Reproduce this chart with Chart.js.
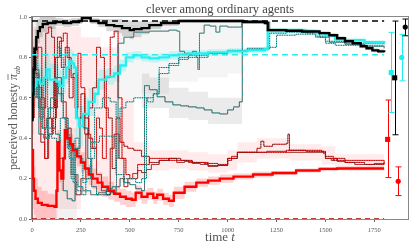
<!DOCTYPE html>
<html>
<head>
<meta charset="utf-8">
<script src="https://cdn.jsdelivr.net/npm/chart.js@4"></script>
<style>
  html, body { margin: 0; padding: 0; background: #fff; }
</style>
</head>
<body>
<canvas id="chart" width="415" height="249"></canvas>
<script>
// Mean perceived honesty (thick lines).
const blackT = [0, 3, 8, 14, 22, 30, 40, 55, 80, 120, 160, 200, 240, 255, 300, 340, 380, 420, 460, 500, 520, 560, 600, 660, 750, 900, 1070, 1080, 1190, 1205, 1300, 1380, 1470, 1520, 1560, 1600, 1640, 1680, 1710, 1740, 1770, 1800];
const blackV = [0.49, 0.62, 0.74, 0.84, 0.90, 0.93, 0.95, 0.965, 0.97, 0.975, 0.97, 0.975, 0.98, 0.995, 0.98, 0.97, 0.96, 0.955, 0.945, 0.935, 0.94, 0.945, 0.96, 0.97, 0.98, 0.98, 0.98, 0.975, 0.97, 0.935, 0.932, 0.928, 0.92, 0.91, 0.895, 0.88, 0.87, 0.855, 0.845, 0.835, 0.83, 0.825];
const blackSpread = [0.2, 0.2, 0.15, 0.1, 0.08, 0.06, 0.05, 0.04, 0.03, 0.02, 0.02, 0.02, 0.015, 0.01, 0.015, 0.02, 0.03, 0.035, 0.04, 0.045, 0.04, 0.03, 0.02, 0.015, 0.01, 0.01, 0.01, 0.01, 0.01, 0.01, 0.01, 0.01, 0.01, 0.01, 0.01, 0.01, 0.01, 0.01, 0.01, 0.01, 0.01, 0.01];

const cyanT = [0, 10, 22, 40, 60, 75, 90, 125, 140, 160, 175, 190, 205, 215, 225, 240, 260, 290, 320, 340, 380, 420, 450, 480, 520, 560, 600, 650, 700, 750, 800, 900, 1000, 1100, 1190, 1205, 1300, 1400, 1450, 1500, 1550, 1600, 1700, 1800];
const cyanV = [0.62, 0.66, 0.69, 0.67, 0.70, 0.74, 0.69, 0.68, 0.66, 0.70, 0.75, 0.78, 0.77, 0.75, 0.50, 0.46, 0.52, 0.58, 0.62, 0.69, 0.705, 0.72, 0.76, 0.80, 0.81, 0.80, 0.795, 0.80, 0.81, 0.815, 0.82, 0.825, 0.83, 0.835, 0.84, 0.93, 0.935, 0.93, 0.92, 0.91, 0.89, 0.885, 0.875, 0.87];
const cyanSpread = [0.1, 0.1, 0.08, 0.08, 0.08, 0.08, 0.08, 0.08, 0.08, 0.08, 0.08, 0.06, 0.06, 0.06, 0.1, 0.1, 0.08, 0.07, 0.06, 0.05, 0.04, 0.04, 0.03, 0.025, 0.02, 0.02, 0.02, 0.02, 0.02, 0.02, 0.015, 0.015, 0.015, 0.015, 0.015, 0.015, 0.01, 0.01, 0.01, 0.01, 0.01, 0.01, 0.01, 0.01];

const redT = [0, 5, 10, 18, 30, 50, 80, 115, 125, 130, 140, 150, 160, 168, 180, 195, 210, 230, 250, 270, 290, 310, 335, 360, 390, 420, 450, 480, 510, 530, 560, 590, 620, 640, 670, 700, 725, 780, 840, 900, 960, 1030, 1130, 1230, 1350, 1470, 1560, 1800];
const redV = [0.34, 0.2, 0.14, 0.1, 0.08, 0.07, 0.065, 0.06, 0.14, 0.38, 0.24, 0.2, 0.3, 0.44, 0.4, 0.37, 0.34, 0.31, 0.28, 0.25, 0.22, 0.2, 0.18, 0.16, 0.14, 0.125, 0.11, 0.1, 0.095, 0.13, 0.11, 0.125, 0.105, 0.12, 0.1, 0.09, 0.13, 0.16, 0.18, 0.19, 0.2, 0.21, 0.22, 0.228, 0.24, 0.248, 0.25, 0.25];
const redSpread = [0.15, 0.15, 0.12, 0.1, 0.08, 0.07, 0.06, 0.06, 0.08, 0.06, 0.06, 0.06, 0.06, 0.06, 0.05, 0.05, 0.05, 0.05, 0.05, 0.05, 0.05, 0.05, 0.05, 0.05, 0.045, 0.04, 0.04, 0.04, 0.035, 0.035, 0.035, 0.03, 0.03, 0.03, 0.03, 0.03, 0.03, 0.025, 0.02, 0.02, 0.02, 0.015, 0.015, 0.01, 0.01, 0.01, 0.01, 0.01];

// Single runs (thin lines).
const aT = [0, 8, 20, 35, 55, 75, 95, 120, 140, 160, 180, 205, 220, 245, 265, 285, 305, 330, 360, 400, 430, 450, 470, 500, 530, 560, 575, 600, 640, 680, 720, 760, 800, 840, 880, 920, 960, 1000, 1030, 1060, 1075, 1200, 1215, 1400, 1470, 1520, 1600, 1700, 1800];
const aV = [0.6, 0.8, 0.74, 0.55, 0.45, 0.5, 0.6, 0.42, 0.3, 0.14, 0.1, 0.09, 0.35, 0.5, 0.45, 0.3, 0.16, 0.12, 0.12, 0.13, 0.16, 0.2, 0.18, 0.17, 0.15, 0.14, 0.66, 0.64, 0.605, 0.58, 0.565, 0.56, 0.555, 0.55, 0.54, 0.525, 0.52, 0.54, 0.555, 0.58, 0.98, 0.975, 0.93, 0.925, 0.9, 0.875, 0.865, 0.855, 0.845];

const bT = [0, 15, 35, 60, 85, 110, 135, 160, 185, 210, 235, 260, 300, 340, 380, 410, 432, 440, 470, 520, 600, 700, 740, 755, 780, 800, 820, 840, 848, 856, 880, 910, 940, 960, 1000, 1060, 1072];
const bV = [0.8, 0.7, 0.42, 0.4, 0.55, 0.68, 0.62, 0.5, 0.36, 0.22, 0.16, 0.14, 0.12, 0.13, 0.15, 0.16, 0.3, 0.87, 0.9, 0.925, 0.93, 0.935, 0.93, 0.83, 0.82, 0.815, 0.83, 0.8, 0.74, 0.92, 0.96, 0.955, 0.925, 0.955, 0.95, 0.95, 0.98];

const cT = [0, 15, 30, 50, 70, 90, 110, 130, 145, 160, 180, 200, 220, 240, 260, 280, 300, 320, 360, 400, 430, 450, 480, 520, 560, 590, 620, 650, 700, 750, 800, 900, 1000, 1100, 1200, 1215, 1300, 1400, 1450, 1500, 1550, 1800];
const cV = [0.7, 0.8, 0.6, 0.45, 0.4, 0.42, 0.6, 0.85, 0.8, 0.5, 0.35, 0.2, 0.4, 0.3, 0.18, 0.2, 0.3, 0.55, 0.6, 0.58, 0.5, 0.55, 0.58, 0.6, 0.6, 0.58, 0.62, 0.75, 0.77, 0.79, 0.8, 0.82, 0.83, 0.84, 0.84, 0.92, 0.925, 0.92, 0.9, 0.87, 0.86, 0.86];

const dT = [0, 20, 40, 60, 80, 100, 125, 145, 170, 190, 210, 230, 255, 275, 300, 345, 430, 470, 500, 530, 560, 585, 620, 650, 700, 750, 800, 900, 1000, 1100, 1210, 1250, 1350, 1450, 1500, 1600, 1800];
const dV = [0.6, 0.65, 0.5, 0.7, 0.45, 0.4, 0.38, 0.5, 0.42, 0.3, 0.18, 0.14, 0.12, 0.2, 0.38, 0.41, 0.22, 0.2, 0.2, 0.18, 0.2, 0.6, 0.62, 0.72, 0.76, 0.8, 0.81, 0.82, 0.835, 0.845, 0.85, 0.91, 0.915, 0.905, 0.88, 0.87, 0.865];

const l1T = [0, 10, 25, 45, 65, 85, 105, 125, 150, 175, 200, 225, 250, 275, 300, 330, 355, 380, 400, 420, 445, 470, 490, 515, 540, 560, 585, 610, 650, 700, 740, 780, 820, 860, 900, 950, 1000, 1020, 1050, 1100, 1200, 1300, 1400, 1490, 1500, 1530, 1545, 1560, 1600, 1650, 1700, 1750, 1800];
const l1V = [0.5, 0.72, 0.6, 0.38, 0.3, 0.42, 0.5, 0.7, 0.58, 0.45, 0.22, 0.12, 0.2, 0.42, 0.35, 0.22, 0.14, 0.12, 0.35, 0.42, 0.3, 0.16, 0.2, 0.225, 0.24, 0.23, 0.245, 0.27, 0.29, 0.3, 0.28, 0.285, 0.275, 0.27, 0.26, 0.265, 0.29, 0.31, 0.33, 0.33, 0.335, 0.33, 0.33, 0.325, 0.3, 0.29, 0.3, 0.285, 0.28, 0.27, 0.27, 0.275, 0.28];

const l2T = [0, 8, 20, 35, 50, 70, 85, 100, 115, 130, 150, 170, 190, 210, 230, 250, 270, 290, 310, 330, 350, 370, 390, 410, 430, 450, 470, 490, 520, 560, 600, 650, 700, 760, 820, 880, 950, 1000, 1050, 1150, 1170, 1185, 1230, 1300, 1308, 1316, 1400, 1490, 1500, 1540, 1560, 1600, 1700, 1800];
const l2V = [0.75, 0.85, 0.72, 0.65, 0.55, 0.92, 0.95, 0.9, 0.55, 0.9, 0.75, 0.85, 0.6, 0.72, 0.5, 0.62, 0.42, 0.55, 0.65, 0.85, 0.8, 0.55, 0.5, 0.25, 0.5, 0.38, 0.36, 0.35, 0.34, 0.31, 0.28, 0.29, 0.3, 0.29, 0.28, 0.275, 0.27, 0.3, 0.33, 0.35, 0.385, 0.36, 0.37, 0.375, 0.42, 0.34, 0.335, 0.33, 0.31, 0.29, 0.3, 0.28, 0.27, 0.275];

const r3T = [0, 10, 30, 50, 65, 80, 100, 120, 140, 160, 180, 200, 220, 235, 250, 270, 290, 310, 330, 345, 360, 380, 400, 420, 440, 460, 480, 500, 540, 600, 700, 800, 900, 1000, 1050, 1300, 1480, 1500, 1560, 1800];
const r3V = [0.5, 0.8, 0.85, 0.6, 0.3, 0.5, 0.45, 0.8, 0.88, 0.92, 0.8, 0.7, 0.55, 0.82, 0.65, 0.5, 0.4, 0.35, 0.5, 0.45, 0.3, 0.7, 0.9, 0.93, 0.6, 0.3, 0.22, 0.2, 0.27, 0.3, 0.29, 0.28, 0.265, 0.3, 0.33, 0.34, 0.335, 0.3, 0.29, 0.275];

// Spread of the single runs (light shading).
const pinkT = [0, 130, 250, 350, 450, 520, 600, 700, 800, 900, 1000, 1050, 1150, 1320, 1480, 1550, 1800];
const pinkLo = [0.0, 0.05, 0.12, 0.15, 0.18, 0.2, 0.24, 0.25, 0.24, 0.23, 0.24, 0.28, 0.3, 0.29, 0.27, 0.25, 0.25];
const pinkHi = [0.95, 0.95, 0.9, 0.85, 0.6, 0.38, 0.34, 0.34, 0.33, 0.32, 0.34, 0.38, 0.4, 0.37, 0.36, 0.32, 0.31];

const greyT = [560, 600, 700, 800, 900, 1000, 1075];
const greyLo = [0.55, 0.55, 0.5, 0.49, 0.47, 0.47, 0.5];
const greyHi = [0.72, 0.7, 0.65, 0.63, 0.6, 0.6, 0.65];

const grey2T = [440, 560, 700, 850, 1000, 1075];
const grey2Lo = [0.6, 0.62, 0.68, 0.7, 0.72, 0.75];
const grey2Hi = [0.96, 0.97, 0.97, 0.98, 0.98, 0.98];

const grey3T = [0, 60, 125, 160, 230];
const grey3Lo = [0.55, 0.7, 0.0, 0.0, 0.0];
const grey3Hi = [1.0, 1.0, 0.4, 0.45, 0.45];

// Reference levels (dashed).
const levelT = [0, 1800];
const blackLevel = 0.98;
const cyanLevel = 0.813;
const redLevel = 0.0;

// Final values with error bars at the right.
const errX = [1818, 1836, 1854, 1872, 1890, 1908];
const errY = [0.394, 0.725, 0.699, 0.187, 0.80, 0.95];
const errLo = [0.205, 0.527, 0.417, 0.116, 0.684, 0.907];
const errHi = [0.589, 0.924, 0.98, 0.258, 0.914, 0.99];
const errColors = ['#ff0000', '#22eeee', '#000000', '#ff0000', '#22eeee', '#000000'];
const errShapes = ['rect', 'rect', 'rect', 'circle', 'circle', 'circle'];

const xTickStep = 250;
const yTickStep = 0.2;

const SERIF = '"Liberation Serif", "DejaVu Serif", serif';

function pts( t, v ) {
  return t.map( ( x, i ) => ( { x: x, y: v[ i ] } ) );
}

function offset( t, v, s, sign ) {
  return t.map( ( x, i ) => ( { x: x, y: v[ i ] + sign * s[ i ] } ) );
}

const sets = [];

function line( data, color, width, dash ) {
  sets.push( {
    data: data,
    borderColor: color,
    borderWidth: width,
    borderDash: dash || [],
    stepped: true,
    pointRadius: 0,
    fill: false,
  } );
}

function band( lo, hi, color ) {
  sets.push( { data: lo, borderWidth: 0, pointRadius: 0, stepped: true, fill: false } );
  sets.push( { data: hi, borderWidth: 0, pointRadius: 0, stepped: true, fill: '-1', backgroundColor: color } );
}

// back to front
band( pts( pinkT, pinkLo ), pts( pinkT, pinkHi ), 'rgba(255,0,0,0.08)' );
band( pts( grey3T, grey3Lo ), pts( grey3T, grey3Hi ), 'rgba(0,0,0,0.05)' );
band( pts( grey2T, grey2Lo ), pts( grey2T, grey2Hi ), 'rgba(0,0,0,0.04)' );
band( pts( greyT, greyLo ), pts( greyT, greyHi ), 'rgba(0,0,0,0.08)' );
band( offset( blackT, blackV, blackSpread, -1 ), offset( blackT, blackV, blackSpread, 1 ), 'rgba(0,0,0,0.15)' );
band( offset( cyanT, cyanV, cyanSpread, -1 ), offset( cyanT, cyanV, cyanSpread, 1 ), 'rgba(0,235,235,0.22)' );
band( offset( redT, redV, redSpread, -1 ), offset( redT, redV, redSpread, 1 ), 'rgba(255,0,0,0.18)' );

const DOT = [1.2, 1.2];
line( pts( l1T, l1V ), '#3a0000', 0.7 );
line( pts( l1T, l1V ), '#ff2020', 0.7, DOT );
line( pts( r3T, r3V ), '#ff0000', 0.8 );
line( pts( r3T, r3V ), '#800000', 0.7, DOT );
line( pts( l2T, l2V ), '#ee0000', 0.8 );
line( pts( l2T, l2V ), '#202020', 0.7, DOT );
line( pts( aT, aV ), '#000000', 0.7 );
line( pts( aT, aV ), '#22dddd', 0.7, DOT );
line( pts( bT, bV ), '#1a1a1a', 0.7 );
line( pts( bT, bV ), '#22dddd', 0.7, DOT );
line( pts( dT, dV ), '#22dddd', 0.7 );
line( pts( dT, dV ), '#1a1a1a', 0.7, DOT );
line( pts( cT, cV ), '#22e5e5', 0.7 );
line( pts( cT, cV ), '#1a1a1a', 0.7, DOT );

line( pts( redT, redV ), '#ff0000', 2.4 );
line( pts( cyanT, cyanV ), '#2aeeee', 2.4 );
line( pts( blackT, blackV ), '#000000', 2.4 );

line( pts( levelT, levelT.map( () => cyanLevel ) ), '#2aeeee', 1.5, [ 6, 4 ] );
line( pts( levelT, levelT.map( () => redLevel ) ), '#aa0000', 1.5, [ 5, 4 ] );
line( pts( levelT, levelT.map( () => blackLevel ) ), '#000000', 1.5, [ 6, 4 ] );

sets.push( {
  type: 'scatter',
  data: pts( errX, errY ),
  showLine: false,
  pointStyle: errShapes,
  pointRadius: errShapes.map( ( s ) => ( s === 'rect' ? 3.6 : 2.6 ) ),
  pointBackgroundColor: errColors,
  pointBorderColor: errColors,
  pointBorderWidth: 0,
} );

sets.forEach( ( d, i ) => { d.order = sets.length - i; } );

// Error bar whiskers, placed through the scales.
const errorBars = {
  id: 'errorBars',
  beforeDatasetsDraw( chart ) {
    const ctx = chart.ctx;
    const xs = chart.scales.x;
    const ys = chart.scales.y;
    ctx.save();
    ctx.lineWidth = 1;
    errX.forEach( ( x, i ) => {
      const px = Math.round( xs.getPixelForValue( x ) ) + 0.5;
      const top = ys.getPixelForValue( errHi[ i ] );
      const bot = ys.getPixelForValue( errLo[ i ] );
      ctx.strokeStyle = errColors[ i ];
      ctx.beginPath();
      ctx.moveTo( px, top );
      ctx.lineTo( px, bot );
      ctx.moveTo( px - 3, top );
      ctx.lineTo( px + 3, top );
      ctx.moveTo( px - 3, bot );
      ctx.lineTo( px + 3, bot );
      ctx.stroke();
    } );
    ctx.restore();
  },
};

// Frame and axis labels (with sub/superscript pieces).
const frameAndLabels = {
  id: 'frameAndLabels',
  afterDraw( chart ) {
    const ctx = chart.ctx;
    const a = chart.chartArea;
    ctx.save();
    ctx.strokeStyle = '#888';
    ctx.lineWidth = 1;
    ctx.strokeRect( a.left - 0.5, a.top - 0.5, a.right - a.left + 1, a.bottom - a.top + 1 );

    ctx.fillStyle = '#555';
    ctx.textBaseline = 'alphabetic';

    // x label: "time t"
    ctx.font = '13px ' + SERIF;
    const w1 = ctx.measureText( 'time ' ).width;
    ctx.font = 'italic 13px ' + SERIF;
    const w2 = ctx.measureText( 't' ).width;
    let x0 = ( a.left + a.right ) / 2 - ( w1 + w2 ) / 2;
    ctx.font = '13px ' + SERIF;
    ctx.fillText( 'time ', x0, 241 );
    ctx.font = 'italic 13px ' + SERIF;
    ctx.fillText( 't', x0 + w1, 241 );

    // y label: "perceived honesty π̄_ab"
    ctx.translate( 17, ( a.top + a.bottom ) / 2 );
    ctx.rotate( -Math.PI / 2 );
    ctx.font = '12px ' + SERIF;
    const main = 'perceived honesty ';
    const m1 = ctx.measureText( main ).width;
    ctx.font = 'italic 12px ' + SERIF;
    const m2 = ctx.measureText( 'π' ).width;
    ctx.font = 'italic 8px ' + SERIF;
    const m3 = ctx.measureText( 'ab' ).width;
    x0 = -( m1 + m2 + m3 ) / 2;
    ctx.font = '12px ' + SERIF;
    ctx.fillText( main, x0, 0 );
    ctx.font = 'italic 12px ' + SERIF;
    ctx.fillText( 'π', x0 + m1, 0 );
    ctx.strokeStyle = '#555';
    ctx.lineWidth = 0.7;
    ctx.beginPath();
    ctx.moveTo( x0 + m1, -9 );
    ctx.lineTo( x0 + m1 + m2, -9 );
    ctx.stroke();
    ctx.font = 'italic 8px ' + SERIF;
    ctx.fillText( 'ab', x0 + m1 + m2, 3 );
    ctx.restore();
  },
};

new Chart( document.getElementById( 'chart' ), {
  type: 'line',
  data: { datasets: sets },
  plugins: [ errorBars, frameAndLabels ],
  options: {
    responsive: false,
    animation: false,
    parsing: false,
    normalized: true,
    layout: { padding: { left: 0, right: 7, top: 0, bottom: 0 } },
    plugins: {
      legend: { display: false },
      tooltip: { enabled: false },
      title: {
        display: true,
        text: 'clever among ordinary agents',
        color: '#444',
        fullSize: false,
        font: { family: SERIF, size: 12.5, weight: 'normal', lineHeight: 1.0 },
        padding: { top: 3, bottom: 1.5 },
      },
    },
    scales: {
      x: {
        type: 'linear',
        min: 0,
        max: 1922,
        ticks: {
          stepSize: xTickStep,
          includeBounds: false,
          maxRotation: 0,
          padding: 4,
          color: '#555',
          font: { family: SERIF, size: 6.5 },
          callback: ( v ) => String( v ),
        },
        grid: { drawOnChartArea: false, tickLength: 3, color: '#666' },
        border: { display: true, color: '#777' },
        afterFit( s ) { s.height = 30; },
      },
      y: {
        type: 'linear',
        min: 0,
        max: 1,
        ticks: {
          stepSize: yTickStep,
          padding: 2,
          color: '#555',
          font: { family: SERIF, size: 6.5 },
          callback: ( v ) => Number( v ).toFixed( 1 ),
        },
        grid: { drawOnChartArea: false, tickLength: 3, color: '#666' },
        border: { display: true, color: '#777' },
        afterFit( s ) { s.width = 32; },
      },
    },
  },
} );
</script>
</body>
</html>
